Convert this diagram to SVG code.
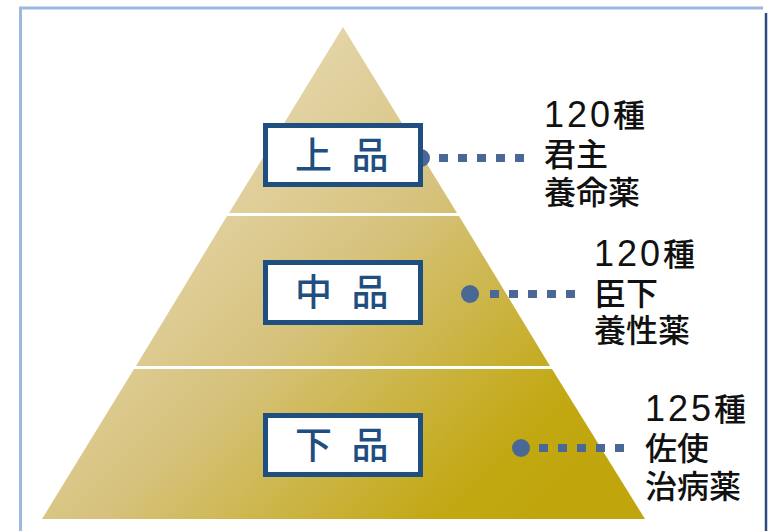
<svg xmlns="http://www.w3.org/2000/svg" width="769" height="531" viewBox="0 0 769 531">
<defs>
<linearGradient id="gold" gradientUnits="userSpaceOnUse" x1="150" y1="100" x2="560" y2="520">
<stop offset="0" stop-color="#EADDBB"/>
<stop offset="0.45" stop-color="#D6C27C"/>
<stop offset="0.85" stop-color="#C2A812"/>
<stop offset="1" stop-color="#C0A50C"/>
</linearGradient>
<style>
.tier{fill:url(#gold)}
.box{fill:#fff;stroke:#1F4E80;stroke-width:5}
.boxt{font-family:"Noto Sans CJK JP","Noto Sans",sans-serif;font-size:37px;fill:#1F4E80;font-weight:500}
.lbl{font-family:"Noto Sans CJK JP","Noto Sans",sans-serif;font-size:32px;fill:#111;font-weight:500}
.num{font-family:"Liberation Sans",Arial,sans-serif;font-size:36px;font-weight:400;letter-spacing:3px}
.dash{stroke:#4A6896;stroke-width:8;stroke-dasharray:9 10;fill:none}
.dot{fill:#4A6896}
</style>
</defs>
<rect x="0" y="0" width="769" height="531" fill="#fff"/>
<g id="frame">
<line x1="19" y1="8" x2="763" y2="8" stroke="#9DB8DD" stroke-width="3"/>
<line x1="20.5" y1="7" x2="20.5" y2="531" stroke="#9DB8DD" stroke-width="3"/>
<line x1="766" y1="13" x2="766" y2="531" stroke="#2B4C7E" stroke-width="2.5"/>
</g>
<g id="pyramid">
<polygon class="tier" points="343,27 457,213 229,213"/>
<polygon class="tier" points="227,216 459,216 550,366 136,366"/>
<polygon class="tier" points="134,369 552,369 645,519 42,519"/>
</g>
<g id="connectors">
<line class="dash" x1="439" y1="158" x2="528" y2="158"/>
<circle class="dot" cx="421" cy="158" r="9"/>
<line class="dash" x1="490" y1="294" x2="578" y2="294"/>
<circle class="dot" cx="470" cy="294" r="9"/>
<line class="dash" x1="539" y1="448" x2="628" y2="448"/>
<circle class="dot" cx="521" cy="448" r="9"/>
</g>
<g id="node-jouhon">
<rect class="box" x="265.5" y="125.5" width="155" height="59"/>
<text class="boxt" x="313.5" y="169" text-anchor="middle">上</text>
<text class="boxt" x="370" y="169" text-anchor="middle">品</text>
</g>
<g id="node-chuhon">
<rect class="box" x="265.5" y="262.5" width="155" height="60"/>
<text class="boxt" x="313.5" y="306" text-anchor="middle">中</text>
<text class="boxt" x="370" y="306" text-anchor="middle">品</text>
</g>
<g id="node-gehon">
<rect class="box" x="265.5" y="415.5" width="155" height="59"/>
<text class="boxt" x="313.5" y="459" text-anchor="middle">下</text>
<text class="boxt" x="370" y="459" text-anchor="middle">品</text>
</g>
<g id="label-jouhon">
<text class="lbl"><tspan x="544" y="127"><tspan class="num">120</tspan>種</tspan><tspan x="544" y="166">君主</tspan><tspan x="544" y="204">養命薬</tspan></text>
</g>
<g id="label-chuhon">
<text class="lbl"><tspan x="594" y="266"><tspan class="num">120</tspan>種</tspan><tspan x="594" y="305">臣下</tspan><tspan x="594" y="342">養性薬</tspan></text>
</g>
<g id="label-gehon">
<text class="lbl"><tspan x="645" y="421"><tspan class="num">125</tspan>種</tspan><tspan x="645" y="460">佐使</tspan><tspan x="645" y="498">治病薬</tspan></text>
</g>
</svg>
